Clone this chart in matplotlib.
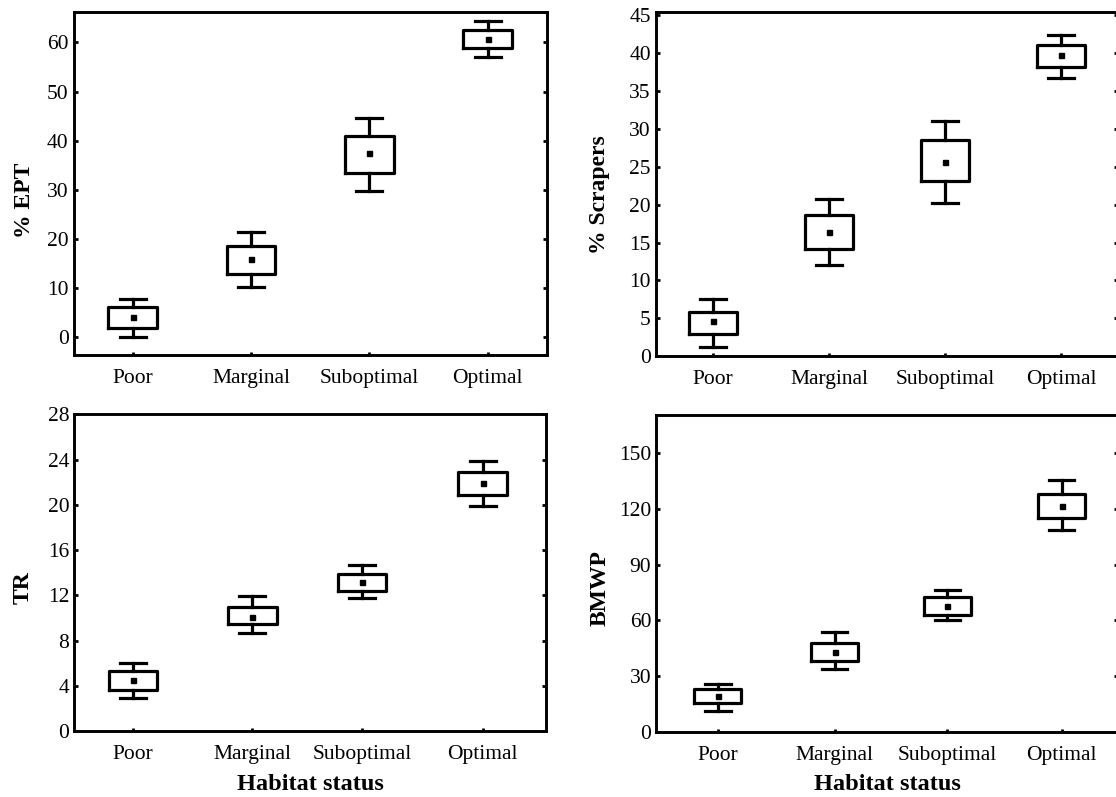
import matplotlib
matplotlib.use("Agg")
import matplotlib.pyplot as plt

categories = ["Poor", "Marginal", "Suboptimal", "Optimal"]

# % EPT
ept_mean = [4.1, 15.9, 37.4, 60.7]
ept_box_lo = [1.9, 12.9, 33.5, 58.9]
ept_box_hi = [6.2, 18.6, 40.9, 62.5]
ept_wh_lo = [0.0, 10.2, 29.8, 57.1]
ept_wh_hi = [7.85, 21.4, 44.7, 64.4]

# % Scrapers
scr_mean = [4.6, 16.4, 25.6, 39.7]
scr_box_lo = [3.0, 14.2, 23.1, 38.2]
scr_box_hi = [5.8, 18.6, 28.5, 41.1]
scr_wh_lo = [1.2, 12.1, 20.2, 36.7]
scr_wh_hi = [7.5, 20.7, 31.0, 42.3]

# TR
tr_mean = [4.5, 10.1, 13.2, 21.9]
tr_box_lo = [3.65, 9.5, 12.4, 20.9]
tr_box_hi = [5.3, 11.0, 13.9, 22.9]
tr_wh_lo = [2.9, 8.7, 11.8, 19.9]
tr_wh_hi = [6.0, 11.95, 14.65, 23.9]

# BMWP
bm_mean = [19.4, 43.1, 67.7, 121.6]
bm_box_lo = [15.3, 38.1, 63.1, 115.0]
bm_box_hi = [23.2, 47.6, 72.6, 128.3]
bm_wh_lo = [11.3, 33.8, 60.0, 108.5]
bm_wh_hi = [25.9, 53.5, 76.3, 135.4]

W, H = 1116, 797
fig = plt.figure(figsize=(W / 100, H / 100), dpi=100)
plt.rcParams["font.family"] = ["Liberation Serif", "DejaVu Serif"]

def rect(l, r, t, b):
    return [l / W, 1 - b / H, (r - l) / W, (b - t) / H]

panels = [
    dict(rect=rect(73.5, 546.7, 12.3, 355.5), data=(ept_mean, ept_box_lo, ept_box_hi, ept_wh_lo, ept_wh_hi),
         ylim=(-3.66, 66.1), yticks=[0, 10, 20, 30, 40, 50, 60], ylabel="% EPT",
         pos=[0, 1, 2, 3], xlim=(-0.5, 3.5), lab=(-0.082, 0.453), xlabel=None),
    dict(rect=rect(655.7, 1118, 12.3, 356.3), data=(scr_mean, scr_box_lo, scr_box_hi, scr_wh_lo, scr_wh_hi),
         ylim=(0.4, 45.35), yticks=[0, 5, 10, 15, 20, 25, 30, 35, 40, 45], ylabel="% Scrapers",
         pos=[0, 1, 2, 3], xlim=(-0.494, 3.49), lab=(-0.099, 0.469), xlabel=None),
    dict(rect=rect(74.3, 546.3, 414.3, 731.3), data=(tr_mean, tr_box_lo, tr_box_hi, tr_wh_lo, tr_wh_hi),
         ylim=(0, 28), yticks=[0, 4, 8, 12, 16, 20, 24, 28], ylabel="TR",
         pos=[0, 1.01, 1.94, 2.96], xlim=(-0.5, 3.5), lab=(-0.085, 0.455), xlabel="Habitat status"),
    dict(rect=rect(656, 1118, 415, 731.7), data=(bm_mean, bm_box_lo, bm_box_hi, bm_wh_lo, bm_wh_hi),
         ylim=(0, 170.7), yticks=[0, 30, 60, 90, 120, 150], ylabel="BMWP",
         pos=[0, 1.02, 2.0, 3.0], xlim=(-0.54, 3.49), lab=(-0.099, 0.455), xlabel="Habitat status"),
]

for p in panels:
    ax = fig.add_axes(p["rect"])
    mean, blo, bhi, wlo, whi = p["data"]
    stats = []
    for i in range(len(categories)):
        stats.append(dict(mean=mean[i], med=mean[i], q1=blo[i], q3=bhi[i],
                          whislo=wlo[i], whishi=whi[i], fliers=[], label=categories[i]))
    lw = 2.3
    ax.bxp(stats, positions=p["pos"], widths=0.41, capwidths=0.22,
           showmeans=True, showfliers=False, patch_artist=False,
           boxprops=dict(color="black", linewidth=lw),
           whiskerprops=dict(color="black", linewidth=lw),
           capprops=dict(color="black", linewidth=lw),
           medianprops=dict(visible=False),
           meanprops=dict(marker="s", markersize=3.6, markerfacecolor="black",
                          markeredgecolor="black"))
    ax.set_xlim(*p["xlim"])
    ax.set_ylim(*p["ylim"])
    ax.set_yticks(p["yticks"])
    ax.set_xticks(p["pos"])
    ax.set_xticklabels(categories)
    for s in ax.spines.values():
        s.set_linewidth(2.1)
        s.set_color("black")
    ax.tick_params(axis="y", direction="in", length=3, width=2, left=True, right=True,
                   labelsize=15.5, pad=3.5, colors="black")
    ax.tick_params(axis="x", direction="in", length=2, width=2, bottom=True, top=False,
                   labelsize=15.5, pad=10, colors="black")
    ax.set_ylabel(p["ylabel"], fontsize=17, fontweight="bold")
    ax.yaxis.set_label_coords(*p["lab"])
    if p["xlabel"]:
        ax.set_xlabel(p["xlabel"], fontsize=17.5, fontweight="bold", labelpad=7)

fig.savefig("out.png", dpi=100)
